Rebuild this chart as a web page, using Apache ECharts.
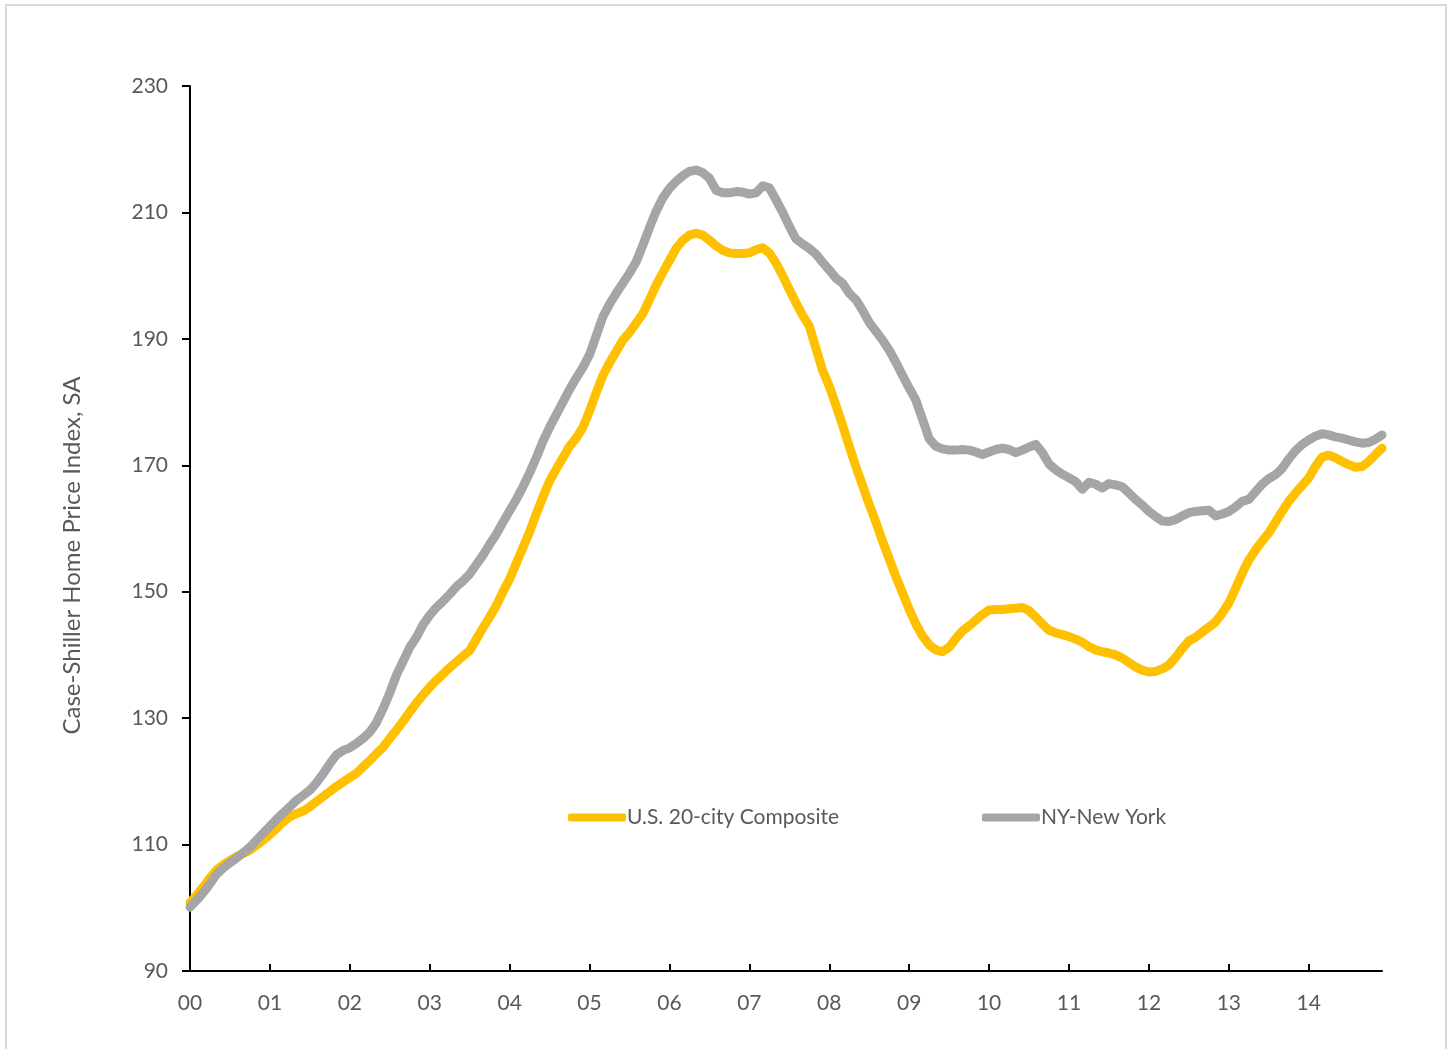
<!DOCTYPE html>
<html>
<head>
<meta charset="utf-8">
<script src="https://cdn.jsdelivr.net/npm/echarts@6/dist/echarts.min.js"></script>
<style>
html,body{margin:0;padding:0;background:#fff;}
#chart{width:1452px;height:1049px;}
</style>
</head>
<body>
<div id="chart"></div>
<script>
// Year tick labels (one per January)
const yearLabels = ['00','01','02','03','04','05','06','07','08','09','10','11','12','13','14'];
const monthNames = ['01','02','03','04','05','06','07','08','09','10','11','12'];

// U.S. 20-city Composite (monthly, Jan 2000 - Dec 2014)
const composite = [
  100.8,102.0,103.3,104.7,106.0,106.8,107.5,108.1,108.6,109.1,109.9,110.7,
  111.6,112.6,113.6,114.4,114.9,115.3,116.0,116.8,117.6,118.4,119.2,119.9,
  120.6,121.3,122.3,123.3,124.4,125.4,126.8,128.1,129.5,131.0,132.4,133.7,
  134.9,136.0,137.0,138.0,138.9,139.8,140.7,142.5,144.3,146.0,147.8,150.0,
  152.0,154.5,157.0,159.5,162.3,165.0,167.5,169.4,171.2,173.0,174.3,176.0,
  178.6,181.5,184.2,186.2,188.0,189.8,191.0,192.5,194.0,196.2,198.5,200.5,
  202.4,204.3,205.6,206.4,206.7,206.4,205.6,204.7,204.0,203.6,203.5,203.5,
  203.6,204.1,204.4,203.6,202.0,200.0,197.8,195.7,193.7,192.0,188.5,185.0,
  182.5,179.5,176.3,173.0,169.8,166.8,163.8,161.0,158.0,155.2,152.4,149.8,
  147.2,144.9,143.0,141.6,140.8,140.5,141.2,142.6,143.8,144.6,145.5,146.4,
  147.1,147.2,147.2,147.3,147.4,147.5,147.0,146.0,144.9,143.9,143.5,143.2,
  142.9,142.5,142.0,141.3,140.8,140.5,140.3,140.0,139.5,138.8,138.1,137.6,
  137.3,137.4,137.8,138.4,139.6,141.0,142.2,142.8,143.6,144.4,145.2,146.6,
  148.2,150.5,152.9,155.0,156.6,158.0,159.3,161.0,162.7,164.3,165.6,166.8,
  168.0,169.8,171.3,171.6,171.2,170.6,170.1,169.7,169.8,170.6,171.7,172.7
];

// NY-New York (monthly, Jan 2000 - Dec 2014)
const newYork = [
  100.1,101.2,102.4,103.8,105.3,106.3,107.1,107.9,108.7,109.6,110.7,111.8,
  112.9,114.0,115.0,116.0,117.0,117.8,118.6,119.8,121.2,122.8,124.2,124.9,
  125.3,126.0,126.8,127.8,129.3,131.5,134.0,136.8,139.0,141.2,142.8,144.8,
  146.3,147.5,148.5,149.6,150.8,151.7,152.8,154.3,155.8,157.5,159.1,161.0,
  162.8,164.6,166.6,168.8,171.2,173.8,176.0,178.0,180.0,182.0,183.8,185.5,
  187.5,190.5,193.5,195.5,197.2,198.8,200.4,202.2,204.8,207.6,210.2,212.3,
  213.8,214.9,215.8,216.5,216.7,216.3,215.4,213.5,213.1,213.1,213.3,213.2,
  212.9,213.1,214.2,213.9,212.0,210.0,207.8,205.8,205.0,204.3,203.4,202.1,
  200.9,199.6,198.8,197.2,196.2,194.5,192.6,191.2,189.8,188.2,186.3,184.2,
  182.2,180.3,177.3,174.2,173.0,172.6,172.4,172.4,172.5,172.4,172.1,171.7,
  172.1,172.5,172.7,172.5,172.0,172.4,172.9,173.3,172.0,170.2,169.3,168.6,
  168.0,167.4,166.2,167.3,167.0,166.4,167.1,166.9,166.6,165.6,164.6,163.7,
  162.7,161.9,161.2,161.1,161.4,162.0,162.5,162.7,162.8,162.9,162.0,162.3,
  162.7,163.4,164.3,164.6,165.8,167.0,167.9,168.5,169.5,171.0,172.3,173.3,
  174.0,174.6,175.0,174.8,174.5,174.3,174.0,173.7,173.5,173.6,174.1,174.8
];

const seriesNames = ['U.S. 20-city Composite', 'NY-New York'];
const yAxisTitle = 'Case-Shiller Home Price Index, SA';

// category labels "YY-MM"
const categories = [];
yearLabels.forEach(y => monthNames.forEach(m => categories.push(y + '-' + m)));

const FONT = 'Lato';
const chart = echarts.init(document.getElementById('chart'), null, {renderer: 'canvas'});
chart.setOption({
  backgroundColor: '#ffffff',
  animation: false,
  textStyle: {fontFamily: FONT},
  graphic: [{
    type: 'rect',
    shape: {x: 6, y: 5, width: 1440, height: 1080},
    style: {fill: 'none', stroke: '#D9D9D9', lineWidth: 2},
    silent: true, z: -1
  }],
  grid: {left: 190, right: 70, top: 86, bottom: 78},
  legend: [{
    data: [seriesNames[0]], left: 563, top: 802,
    icon: 'roundRect', itemWidth: 58, itemHeight: 8, itemGap: 0,
    textStyle: {fontFamily: FONT, fontSize: 21, color: '#595959', padding: [0,0,0,-4]}
  }, {
    data: [seriesNames[1]], left: 977, top: 802,
    icon: 'roundRect', itemWidth: 58, itemHeight: 8, itemGap: 0,
    textStyle: {fontFamily: FONT, fontSize: 21, color: '#595959', padding: [0,0,0,-4]}
  }],
  xAxis: {
    type: 'category',
    data: categories,
    boundaryGap: false,
    axisLine: {lineStyle: {color: '#000', width: 2}},
    axisTick: {inside: true, length: 7, lineStyle: {color: '#000', width: 2},
      interval: (i) => i % 12 === 0},
    axisLabel: {interval: (i) => i % 12 === 0, formatter: (v) => v.split('-')[0],
      fontFamily: FONT, fontSize: 21, color: '#595959', margin: 22},
    splitLine: {show: false}
  },
  yAxis: {
    type: 'value', min: 90, max: 230, interval: 20,
    name: yAxisTitle, nameLocation: 'middle', nameGap: 106,
    nameTextStyle: {fontFamily: FONT, fontSize: 24, color: '#595959', padding: [0, 54, 0, 0]},
    axisLine: {show: true, lineStyle: {color: '#000', width: 2}},
    axisTick: {show: true, length: 8, lineStyle: {color: '#000', width: 2}},
    axisLabel: {fontFamily: FONT, fontSize: 21, color: '#595959', margin: 22},
    splitLine: {show: false}
  },
  series: [{
    name: seriesNames[0], type: 'line', data: composite,
    showSymbol: false, symbol: 'none', smooth: false,
    itemStyle: {color: '#FFC000'},
    lineStyle: {color: '#FFC000', width: 9, cap: 'round', join: 'round'}
  }, {
    name: seriesNames[1], type: 'line', data: newYork,
    showSymbol: false, symbol: 'none', smooth: false,
    itemStyle: {color: '#A5A5A5'},
    lineStyle: {color: '#A5A5A5', width: 9, cap: 'round', join: 'round'}
  }]
});
</script>
</body>
</html>
